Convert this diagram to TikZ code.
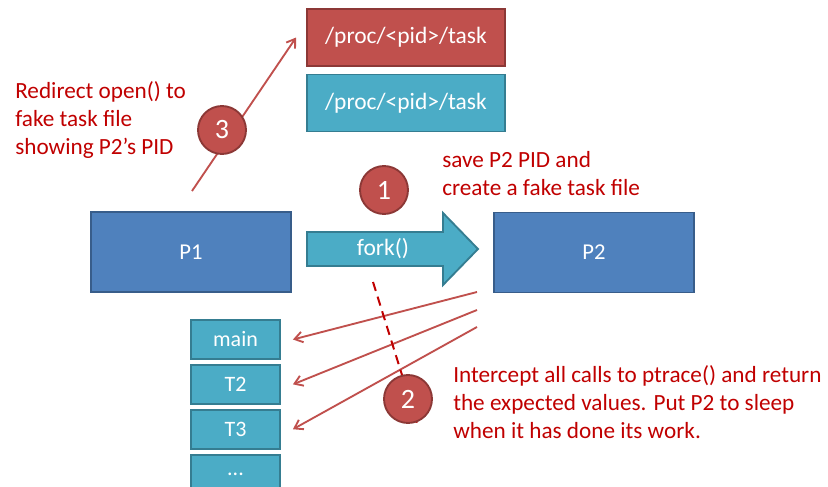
\documentclass[tikz,border=0pt]{standalone}
\usepackage{fontspec}
\setmainfont{Carlito}
\usepackage{xcolor}
\usepackage{tikz}
\usetikzlibrary{arrows.meta,positioning}
\definecolor{redfill}{HTML}{C0504D}
\definecolor{redline}{HTML}{8C3836}
\definecolor{cyanfill}{HTML}{4BACC6}
\definecolor{cyanline}{HTML}{357D91}
\definecolor{bluefill}{HTML}{4F81BD}
\definecolor{blueline}{HTML}{385D8A}
\definecolor{notered}{HTML}{C00000}
\tikzset{
  proc/.style={draw=blueline, fill=bluefill, line width=1.4pt, minimum width=150pt, minimum height=60pt, text=white, font=\fontsize{17}{20}\selectfont},
  taskfile/.style={draw=#1line, fill=#1fill, line width=1.4pt, minimum width=148.5pt, minimum height=42.75pt, text=white, font=\fontsize{17.6}{20}\selectfont},
  thread/.style={draw=cyanline, fill=cyanfill, line width=1.4pt, minimum width=66.75pt, minimum height=29.25pt, inner sep=0pt, text=white, font=\fontsize{16.5}{19}\selectfont},
  forkbody/.style={draw=cyanline, fill=cyanfill, line width=1.4pt, line join=miter},
  stepnum/.style={circle, draw=redline, fill=redfill, line width=1.4pt, minimum size=36pt, inner sep=0pt, text=white, font=\fontsize{21}{24}\selectfont},
  note/.style={text=notered, align=left, inner sep=0pt, anchor=west, font=\fontsize{17.4}{21}\selectfont},
  call/.style={draw=redfill, line width=1.4pt, -{Straight Barb[length=6pt,width=8pt]}},
  hook/.style={draw=notered, line width=1.5pt, dash pattern=on 7pt off 4.5pt},
}

\begin{document}
\begin{tikzpicture}[x=0.75pt, y=-0.75pt]
\useasboundingbox (0,0) rectangle (828,486);
% processes
\node[proc] (p1) at (191,252) {P1};
\node[proc] (p2) at (594,252.5) {P2};
\draw[forkbody] (307,232) -- (443,232) -- (443,213) -- (478,249) -- (443,285) -- (443,266) -- (307,266) -- cycle;
\node[text=white, font=\fontsize{17.6}{20}\selectfont] (fork) at (383,249) {fork()};
% task files
\node[taskfile=red] (taskred) at (406,37.5) {/proc/<pid>/task};
\node[taskfile=cyan] (taskcyan) at (406,103) {/proc/<pid>/task};
% threads
\node[thread] (main) at (235.5,339.5) {main};
\node[thread, below=3pt of main] (t2) {T2};
\node[thread, below=3pt of t2] (t3) {T3};
\node[thread, below=3pt of t3] (more) {...};
% ptrace calls
\coordinate (c1) at (477,292);
\coordinate (c2) at (477,310);
\coordinate (c3) at (477,327);
\draw[call] (c1) -- ([xshift=9pt]main.east);
\draw[call] (c2) -- ([xshift=9pt]t2.east);
\draw[call] (c3) -- ([xshift=9pt]t3.east);
\coordinate (h1) at (373,282);
\coordinate (h2) at (417,423);
\draw[hook] (h1) -- (h2);
% redirect
\coordinate (o3) at (192,191);
\draw[call] (o3) -- ([xshift=-7.5pt]taskred.west);
% steps
\node[stepnum] (s1) at (384,190) {1};
\node[stepnum] (s2) at (408,399) {2};
\node[stepnum] (s3) at (222,130) {3};
\node[note] (n3) at (15,120) {Redirect open() to\\fake task file\\showing P2’s PID};
\node[note] (n1) at (442,174) {save P2 PID and\\create a fake task file};
\node[note] (n2) at (453,402) {Intercept all calls to ptrace() and return\\the expected values. Put P2 to sleep\\when it has done its work.};
\end{tikzpicture}
\end{document}
